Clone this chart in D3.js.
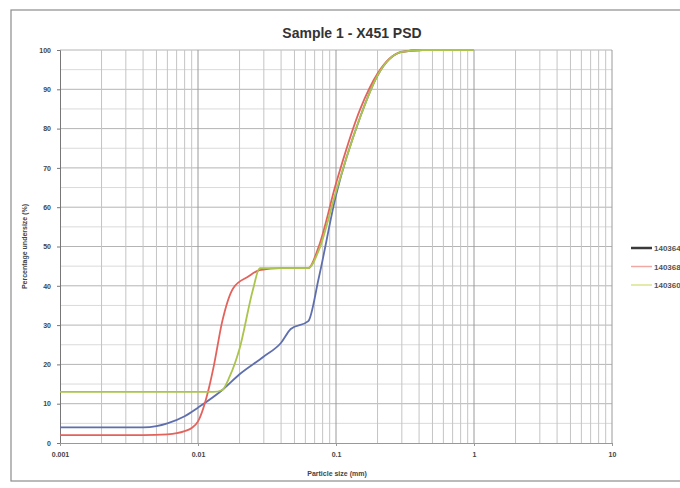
<!DOCTYPE html>
<html lang="en">
<head>
<title>Sample 1 - X451 PSD</title>
<meta charset="utf-8">
<script src="https://cdn.jsdelivr.net/npm/d3@7"></script>
<style>
	body { margin: 0; background: #fff; }
	svg { display: block; font-family: "Liberation Sans", Arial, sans-serif; }
</style>
</head>
<body>
<div id="chart"></div>
<script>
	// series names (legend)
	var seriesNames = ["140364", "140368", "140360"];

	// series 1 (blue)
	var size1 = [0.001, 0.002, 0.004, 0.005, 0.006, 0.008, 0.01, 0.015, 0.02, 0.03, 0.04, 0.047, 0.063, 0.075, 0.1, 0.15, 0.2, 0.3, 0.425, 0.6, 1];
	var pass1 = [4, 4, 4, 4.3, 5, 6.8, 9, 13.5, 17.5, 22, 25.5, 29, 31, 42, 63, 83, 93.5, 99.5, 100, 100, 100];

	// series 2 (red)
	var size2 = [0.001, 0.002, 0.004, 0.006, 0.008, 0.009, 0.01, 0.012, 0.013, 0.015, 0.018, 0.023, 0.028, 0.04, 0.063, 0.075, 0.1, 0.15, 0.2, 0.3, 0.425, 0.6, 1];
	var pass2 = [2, 2, 2, 2.2, 3, 3.8, 5.5, 14, 19.5, 31, 39.4, 42.3, 44, 44.5, 44.5, 50, 66, 85, 94, 99.5, 100, 100, 100];

	// series 3 (green)
	var size3 = [0.001, 0.002, 0.004, 0.006, 0.008, 0.01, 0.013, 0.015, 0.017, 0.02, 0.025, 0.028, 0.04, 0.063, 0.075, 0.1, 0.15, 0.2, 0.3, 0.425, 0.6, 1];
	var pass3 = [13, 13, 13, 13, 13, 13, 13, 13.5, 17, 24, 39, 44.5, 44.5, 44.5, 49, 64, 83, 93.5, 99.5, 100, 100, 100];

	var xTicks = [0.001, 0.01, 0.1, 1, 10];
	var xTickLabels = ["0.001", "0.01", "0.1", "1", "10"];
	var yTicks = [0, 10, 20, 30, 40, 50, 60, 70, 80, 90, 100];

	var colors = ["#5f6fae", "#e4625c", "#aac44c"];
	var legendColors = ["#3a3a3a", "#f0a8a4", "#d8e48c"];

	var W = 680, H = 488;
	var margin = {top: 50, right: 70, bottom: 45, left: 60};
	var width = 612 - margin.left,
		height = 443 - margin.top;

	var svg = d3.select("#chart").append("svg")
		.attr("width", W)
		.attr("height", H);

	// outer chart frame
	svg.append("rect")
		.attr("x", 11).attr("y", 10)
		.attr("width", 700).attr("height", 471)
		.attr("fill", "none")
		.attr("stroke", "#8c8c8c")
		.attr("stroke-width", 1.2);

	svg.append("text")
		.attr("x", 352).attr("y", 38)
		.attr("text-anchor", "middle")
		.style("font-size", "14px")
		.style("font-weight", "bold")
		.attr("fill", "#333")
		.text("Sample 1 - X451 PSD");

	var g = svg.append("g")
		.attr("transform", "translate(" + margin.left + "," + margin.top + ")");

	var x = d3.scaleLog().domain([0.001, 10]).range([0, width]);
	var y = d3.scaleLinear().domain([0, 100]).range([height, 0]);

	// minor horizontal grid (every 5)
	g.append("g").selectAll("line")
		.data(d3.range(5, 100, 10))
		.enter().append("line")
		.attr("x1", 0).attr("x2", width)
		.attr("y1", function(d) { return y(d); })
		.attr("y2", function(d) { return y(d); })
		.attr("stroke", "#dadada");

	// major horizontal grid
	g.append("g").selectAll("line")
		.data(yTicks.slice(1))
		.enter().append("line")
		.attr("x1", 0).attr("x2", width)
		.attr("y1", function(d) { return y(d); })
		.attr("y2", function(d) { return y(d); })
		.attr("stroke", "#b4b4b4");

	// vertical log grid
	var minorX = [];
	[0.001, 0.01, 0.1, 1].forEach(function(dec) {
		for (var k = 2; k <= 9; k++) minorX.push(dec * k);
	});
	g.append("g").selectAll("line")
		.data(minorX)
		.enter().append("line")
		.attr("x1", function(d) { return x(d); })
		.attr("x2", function(d) { return x(d); })
		.attr("y1", 0).attr("y2", height)
		.attr("stroke", "#c4c4c4");
	g.append("g").selectAll("line")
		.data(xTicks.slice(1))
		.enter().append("line")
		.attr("x1", function(d) { return x(d); })
		.attr("x2", function(d) { return x(d); })
		.attr("y1", 0).attr("y2", height)
		.attr("stroke", "#9a9a9a");

	// axes
	var yAxis = d3.axisLeft(y).tickValues(yTicks).tickSize(3).tickPadding(6);
	var xAxis = d3.axisBottom(x).tickValues(xTicks).tickSize(3).tickPadding(6)
		.tickFormat(function(d, i) { return xTickLabels[i]; });

	g.append("g").call(yAxis)
		.call(function(a) {
			a.select(".domain").attr("stroke", "#777");
			a.selectAll(".tick line").attr("stroke", "#777");
			a.selectAll("text").attr("fill", "#444").style("font-size", "7px").style("font-weight", "bold");
		});
	g.append("g").attr("transform", "translate(0," + height + ")").call(xAxis)
		.call(function(a) {
			a.select(".domain").attr("stroke", "#999");
			a.selectAll(".tick line").attr("stroke", "#999");
			a.selectAll("text").attr("fill", "#444").style("font-size", "7px").style("font-weight", "bold");
		});

	// axis titles
	svg.append("text")
		.attr("x", 337).attr("y", 476)
		.attr("text-anchor", "middle")
		.style("font-size", "7px").style("font-weight", "bold")
		.attr("fill", "#444")
		.text("Particle size (mm)");
	svg.append("text")
		.attr("transform", "translate(27," + (margin.top + height / 2) + ") rotate(-90)")
		.attr("text-anchor", "middle")
		.style("font-size", "7px").style("font-weight", "bold")
		.attr("fill", "#444")
		.text("Percentage undersize (%)");

	// curves
	var line = d3.line()
		.x(function(d) { return x(d[0]); })
		.y(function(d) { return y(d[1]); })
		.curve(d3.curveMonotoneX);

	var series = [d3.zip(size1, pass1), d3.zip(size2, pass2), d3.zip(size3, pass3)];

	g.selectAll(".psd")
		.data(series)
		.enter().append("path")
		.attr("class", "psd")
		.attr("d", line)
		.attr("fill", "none")
		.attr("stroke", function(d, i) { return colors[i]; })
		.attr("stroke-width", 1.8);

	// legend
	var legend = svg.append("g").selectAll("g")
		.data(seriesNames)
		.enter().append("g")
		.attr("transform", function(d, i) { return "translate(631," + (248 + i * 18.5) + ")"; });
	legend.append("line")
		.attr("x1", 0).attr("x2", 21)
		.attr("stroke", function(d, i) { return legendColors[i]; })
		.attr("stroke-width", function(d, i) { return i == 0 ? 2.5 : 1.5; });
	legend.append("text")
		.attr("x", 23).attr("y", 3)
		.style("font-size", "8px").style("font-weight", "bold")
		.attr("fill", "#555")
		.text(function(d) { return d; });
</script>
</body>
</html>
